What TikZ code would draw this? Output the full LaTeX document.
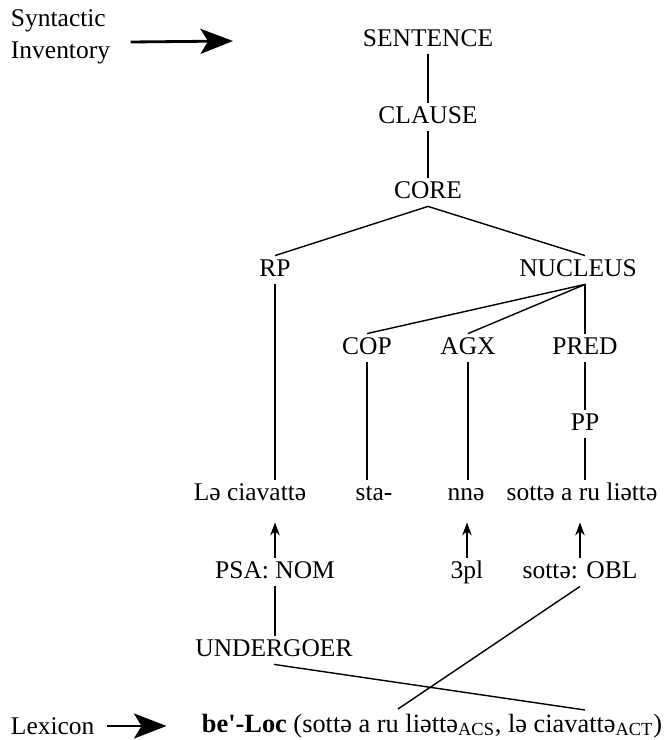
\documentclass[tikz,border=0pt]{standalone}
\usepackage{fontspec}
\setmainfont{Liberation Serif}[Ligatures=TeXOff]
\usetikzlibrary{arrows.meta}
\tikzset{
  cat/.style={font=\fontsize{14.5}{17}\selectfont, inner sep=1.5pt, text height=10pt, text depth=3pt},
  side/.style={font=\fontsize{14.5}{18}\selectfont, inner sep=1.5pt, align=left, anchor=west},
  link/.style={line width=0.8pt},
  up/.style={line width=0.8pt, -{Stealth[length=2.6mm,width=1.9mm]}},
  bigarrow/.style={line width=1.6pt, -{Stealth[length=6.5mm,width=5mm,inset=1.5mm]}}
}
\begin{document}
\begin{tikzpicture}[x=0.02cm,y=-0.02cm]
\useasboundingbox (0,0) rectangle (665,740);
% levels of the tree
\node[side] (inv) at (8,37) {Syntactic\\Inventory};
\coordinate (invtip) at (233,41);
\node[cat] (sent) at (428,40) {SENTENCE};
\node[cat] (clause) at (428,117) {CLAUSE};
\node[cat] (core) at (428,192) {CORE};
\node[cat] (rp) at (275,270) {RP};
\node[cat] (nuc) at (578,270) {NUCLEUS};
\node[cat] (cop) at (367,348) {COP};
\node[cat] (agx) at (468,348) {AGX};
\node[cat] (pred) at (585,348) {PRED};
\node[cat] (pp) at (585,424) {PP};
% the words
\node[cat] (lciav) at (250,494) {Lə ciavattə};
\node[cat] (sta) at (374,494) {sta-};
\node[cat] (nne) at (466,494) {nnə};
\node[cat] (sotta) at (582,494) {sottə a ru liəttə};
% linking
\node[cat] (psa) at (275,572) {PSA: NOM};
\node[cat] (pl) at (467,572) {3pl};
\node[cat] (obl) at (580,572) {sottə: OBL};
\node[cat] (und) at (274,650) {UNDERGOER};
\node[side] (lex) at (8,726) {Lexicon};
\node[cat,anchor=west,font=\fontsize{15}{17}\selectfont] (be) at (199,726) {\textbf{be'-Loc} (sottə a ru liəttə\textsubscript{ACS}, lə ciavattə\textsubscript{ACT})};
\coordinate (liat) at (398,709);
\coordinate (ciav) at (585,710);

\draw[bigarrow] ([xshift=0.35cm,yshift=-0.1cm]inv.east) -- (invtip);
\draw[link] (sent) -- (clause);
\draw[link] (clause) -- (core);
\draw[link] (core.south) -- (rp.north);
\draw[link] (core.south) -- (nuc.north -| pred.north);
\draw[link] (nuc.south -| pred.north) -- (cop.north);
\draw[link] (nuc.south -| pred.north) -- (agx.north);
\draw[link] (nuc.south -| pred.north) -- (pred.north);
\draw[link] (pred) -- (pp);
\draw[link] (rp.south) -- (rp.south |- lciav.north);
\draw[link] (cop.south) -- (cop.south |- sta.north);
\draw[link] (agx.south) -- (agx.south |- nne.north);
\draw[link] (pp.south) -- (pp.south |- sotta.north);
\draw[up] (psa.north) -- ([yshift=-0.28cm]psa.north |- lciav.south);
\draw[up] (pl.north) -- ([yshift=-0.28cm]pl.north |- nne.south);
\draw[up] (obl.north) -- ([yshift=-0.28cm]obl.north |- sotta.south);
\draw[link] (psa.south) -- (und.north -| psa.south);
\draw[link] (und.south) -- (ciav);
\draw[link] (obl.south) -- (liat);
\draw[bigarrow] ([xshift=0.2cm]lex.east) -- ([xshift=-0.65cm]be.west);
\end{tikzpicture}
\end{document}
